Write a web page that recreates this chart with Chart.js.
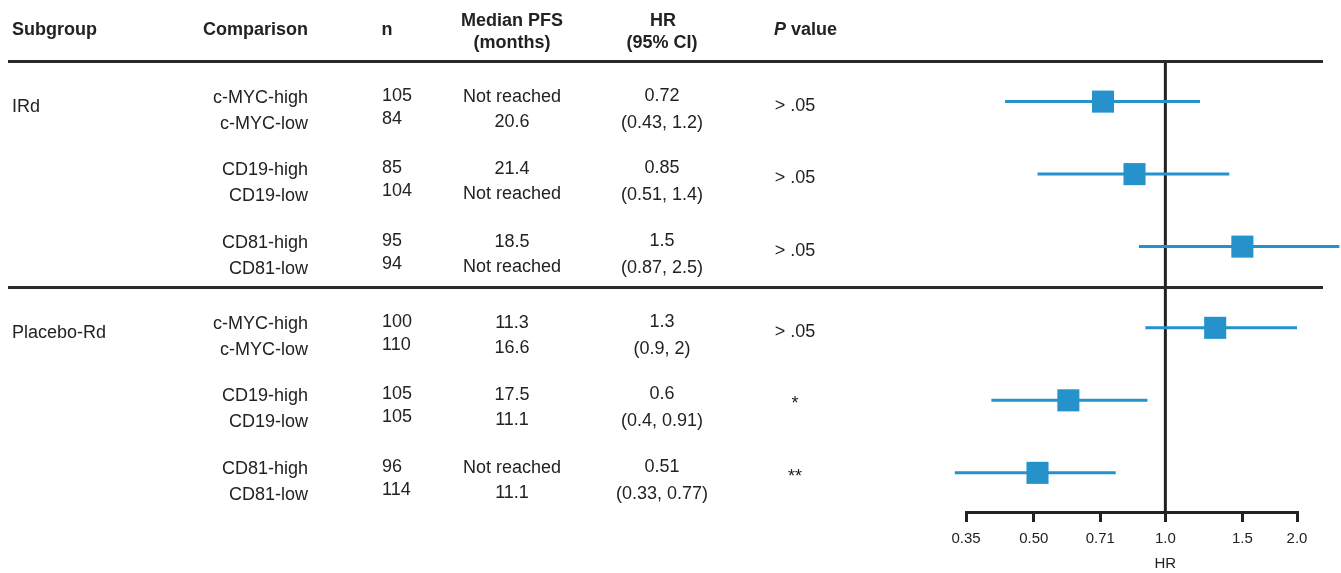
<!DOCTYPE html>
<html>
<head>
<meta charset="utf-8">
<script src="https://cdn.jsdelivr.net/npm/chart.js@4"></script>
<style>
  body { margin: 0; background: #fff; }
  #wrap { position: relative; width: 1341px; height: 573px; overflow: hidden; font-family: "Liberation Sans", Arial, sans-serif; color: #222; }
  #forestCanvas { position: absolute; left: 0; top: 0; }
  .txt { position: absolute; font-size: 18px; line-height: 20px; white-space: nowrap; transform: translateY(-50%); }
  .hdr { font-weight: bold; }
  .small { font-size: 15px; }
  .rule { position: absolute; left: 8px; width: 1315px; height: 3px; background: #2a2a2a; }
</style>
</head>
<body>
<div id="wrap">
  <canvas id="forestCanvas" width="1341" height="573"></canvas>
</div>
<script>
// table + forest data
const subgroups = ['IRd', 'Placebo-Rd'];
const subgroupRows = [0, 3];
const highLabels = ['c-MYC-high', 'CD19-high', 'CD81-high', 'c-MYC-high', 'CD19-high', 'CD81-high'];
const lowLabels = ['c-MYC-low', 'CD19-low', 'CD81-low', 'c-MYC-low', 'CD19-low', 'CD81-low'];
const nHigh = [105, 85, 95, 100, 105, 96];
const nLow = [84, 104, 94, 110, 105, 114];
const pfsHigh = ['Not reached', '21.4', '18.5', '11.3', '17.5', 'Not reached'];
const pfsLow = ['20.6', 'Not reached', 'Not reached', '16.6', '11.1', '11.1'];
const hrValues = [0.72, 0.85, 1.5, 1.3, 0.6, 0.51];
const ciLow = [0.43, 0.51, 0.87, 0.9, 0.4, 0.33];
const ciHigh = [1.2, 1.4, 2.5, 2, 0.91, 0.77];
const pValues = ['> .05', '> .05', '> .05', '> .05', '*', '**'];
const rowPos = [1, 2, 3, 4.12, 5.12, 6.12];
const xTicks = [0.35, 0.5, 0.71, 1, 1.5, 2];
const xTickLabels = ['0.35', '0.50', '0.71', '1.0', '1.5', '2.0'];

const blue = '#2592cc';
const ink = '#222';
const wrap = document.getElementById('wrap');
const ctx = document.getElementById('forestCanvas').getContext('2d');

const yMin = 0.44, yMax = 6.66;

let datasets = [];
// squares on top
datasets.push({
    type: 'scatter',
    data: hrValues.map((v, i) => ({ x: v, y: rowPos[i] })),
    pointStyle: 'rect',
    pointRadius: 15.6,
    backgroundColor: blue,
    borderWidth: 0,
    clip: false
});
ciLow.forEach((lo, i) => {
    datasets.push({
        type: 'line',
        data: [{ x: lo, y: rowPos[i] }, { x: ciHigh[i], y: rowPos[i] }],
        borderColor: blue,
        borderWidth: 3,
        pointRadius: 0,
        fill: false,
        clip: false
    });
});
// line of no effect
datasets.push({
    type: 'line',
    data: [{ x: 1, y: yMin }, { x: 1, y: yMax }],
    borderColor: ink,
    borderWidth: 3,
    pointRadius: 0,
    fill: false
});

const chart = new Chart(ctx, {
    type: 'scatter',
    data: { datasets: datasets },
    options: {
        responsive: false,
        animation: false,
        events: [],
        layout: { padding: { left: 966, right: 44, top: 61, bottom: 17 } },
        plugins: { legend: { display: false }, tooltip: { enabled: false } },
        scales: {
            x: {
                type: 'logarithmic',
                min: 0.35,
                max: 2,
                afterBuildTicks: scale => { scale.ticks = xTicks.map(v => ({ value: v })); },
                ticks: {
                    callback: (v, i) => xTickLabels[i],
                    autoSkip: false,
                    maxRotation: 0,
                    padding: 8,
                    color: ink,
                    font: { family: '"Liberation Sans", Arial, sans-serif', size: 15 }
                },
                grid: { drawOnChartArea: false, drawTicks: true, tickLength: 10, color: ink, lineWidth: 3 },
                border: { display: true, color: ink, width: 3 }
            },
            y: { type: 'linear', display: false, reverse: true, min: yMin, max: yMax }
        }
    }
});

function addText(text, x, y, align, cls) {
    const el = document.createElement('div');
    el.className = 'txt' + (cls ? ' ' + cls : '');
    el.innerHTML = text;
    el.style.top = y + 'px';
    if (align === 'left') {
        el.style.left = x + 'px';
    } else if (align === 'right') {
        el.style.right = (1341 - x) + 'px';
    } else {
        el.style.left = x + 'px';
        el.style.transform = 'translate(-50%, -50%)';
    }
    wrap.appendChild(el);
}

function addRule(y) {
    const el = document.createElement('div');
    el.className = 'rule';
    el.style.top = (y - 1.5) + 'px';
    wrap.appendChild(el);
}

// header
addText('Subgroup', 12, 29, 'left', 'hdr');
addText('Comparison', 308, 29, 'right', 'hdr');
addText('n', 387, 29, 'center', 'hdr');
addText('Median PFS', 512, 20, 'center', 'hdr');
addText('(months)', 512, 42, 'center', 'hdr');
addText('HR', 663, 20, 'center', 'hdr');
addText('(95% CI)', 662, 42, 'center', 'hdr');
addText('<i>P</i> value', 774, 29, 'left', 'hdr');

const yScale = chart.scales.y;
const xScale = chart.scales.x;
addRule(chart.chartArea.top);
addRule((yScale.getPixelForValue(rowPos[2]) + yScale.getPixelForValue(rowPos[3])) / 2);

// axis title sits under the 1.0 line
addText('HR', xScale.getPixelForValue(1), 563, 'center', 'small');

subgroups.forEach((name, g) => {
    const py = yScale.getPixelForValue(rowPos[subgroupRows[g]]);
    addText(name, 12, py + 4, 'left');
});

rowPos.forEach((pos, i) => {
    const py = yScale.getPixelForValue(pos);
    addText(highLabels[i], 308, py - 5, 'right');
    addText(lowLabels[i], 308, py + 21, 'right');
    addText(String(nHigh[i]), 382, py - 7, 'left');
    addText(String(nLow[i]), 382, py + 16, 'left');
    addText(pfsHigh[i], 512, py - 6, 'center');
    addText(pfsLow[i], 512, py + 19, 'center');
    addText(String(hrValues[i]), 662, py - 7, 'center');
    addText('(' + ciLow[i] + ', ' + ciHigh[i] + ')', 662, py + 20, 'center');
    addText(pValues[i], 795, py + 3, 'center');
});
</script>
</body>
</html>
